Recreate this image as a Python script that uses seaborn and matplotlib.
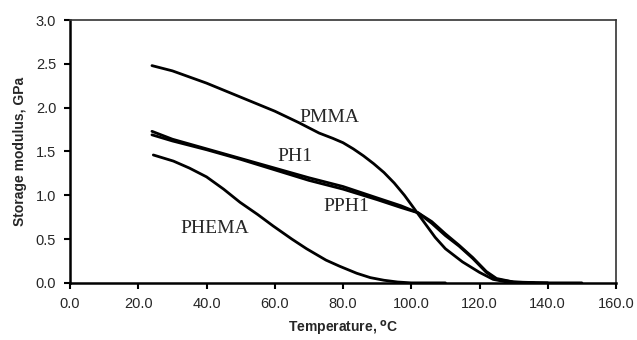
import numpy as np
import pandas as pd
import matplotlib
matplotlib.use("Agg")
import matplotlib.pyplot as plt
import seaborn as sns

# storage modulus (GPa) vs temperature (C)
pmma_t = [24, 30, 35, 40, 50, 60, 67, 73, 77, 80, 83, 86, 89, 92, 95, 98, 101, 104, 107, 110, 115, 120, 124, 128, 135, 150]
pmma_g = [2.48, 2.42, 2.35, 2.28, 2.12, 1.96, 1.83, 1.71, 1.65, 1.60, 1.53, 1.45, 1.36, 1.26, 1.14, 1.00, 0.84, 0.68, 0.52, 0.39, 0.24, 0.12, 0.04, 0.01, 0.0, 0.0]

ph1_t = [24, 30, 40, 50, 60, 70, 80, 90, 97, 102, 106, 110, 114, 118, 122, 125, 130, 140]
ph1_g = [1.73, 1.64, 1.53, 1.42, 1.31, 1.20, 1.10, 0.97, 0.88, 0.80, 0.68, 0.54, 0.42, 0.28, 0.12, 0.04, 0.01, 0.0]

pph1_t = [24, 30, 40, 50, 60, 70, 80, 90, 97, 102, 106, 110, 114, 118, 122, 125, 130, 136]
pph1_g = [1.69, 1.62, 1.52, 1.41, 1.29, 1.17, 1.07, 0.95, 0.86, 0.80, 0.70, 0.56, 0.43, 0.29, 0.13, 0.05, 0.01, 0.0]

phema_t = [24.4, 30.3, 35, 40, 45, 49.8, 55, 59.5, 65, 69.3, 75, 79, 84, 88, 92, 96, 100, 110]
phema_g = [1.46, 1.39, 1.31, 1.21, 1.07, 0.92, 0.78, 0.65, 0.50, 0.39, 0.26, 0.19, 0.11, 0.06, 0.03, 0.01, 0.0, 0.0]

# label positions (data coords)
labels = ["PMMA", "PH1", "PPH1", "PHEMA"]
label_x = [76, 66, 81, 42.5]
label_y = [1.89, 1.44, 0.87, 0.62]

frames = []
for name, t, g in [("PMMA", pmma_t, pmma_g), ("PH1", ph1_t, ph1_g),
                   ("PPH1", pph1_t, pph1_g), ("PHEMA", phema_t, phema_g)]:
    frames.append(pd.DataFrame({"T": t, "G": g, "sample": name}))
df = pd.concat(frames, ignore_index=True)

sns.set_style("ticks")
plt.rcParams["font.family"] = ["Liberation Sans", "DejaVu Sans"]

fig = plt.figure(figsize=(6.37, 3.40), dpi=100)
ax = fig.add_axes([0.110, 0.168, 0.857, 0.773])

sns.lineplot(data=df, x="T", y="G", units="sample", estimator=None,
             color="black", linewidth=2.0, sort=False, ax=ax)

for lab, lx, ly in zip(labels, label_x, label_y):
    ax.text(lx, ly, lab, ha="center", va="center", fontsize=14,
            family=["Liberation Serif", "DejaVu Serif"])

ax.set_xlim(0, 160)
ax.set_ylim(0, 3.0)
ax.set_xticks(np.arange(0, 161, 20))
ax.set_yticks(np.arange(0, 3.01, 0.5))
ax.set_xticklabels([f"{v:.1f}" for v in np.arange(0, 161, 20)], fontsize=10.5)
ax.set_yticklabels([f"{v:.1f}" for v in np.arange(0, 3.01, 0.5)], fontsize=10.5)
ax.tick_params(direction="out", length=4, width=1.5, color="black", pad=6)

ax.set_xlabel(r"Temperature, $^{\mathbf{o}}$C", fontsize=10, fontweight="bold", labelpad=6)
ax.set_ylabel("Storage modulus, GPa", fontsize=10, fontweight="bold", labelpad=6)

for side in ["left", "bottom"]:
    ax.spines[side].set_linewidth(1.8)
    ax.spines[side].set_color("black")
for side in ["top", "right"]:
    ax.spines[side].set_visible(True)
    ax.spines[side].set_linewidth(1.2)
    ax.spines[side].set_color("#333333")

fig.savefig("out.png", dpi=100)
